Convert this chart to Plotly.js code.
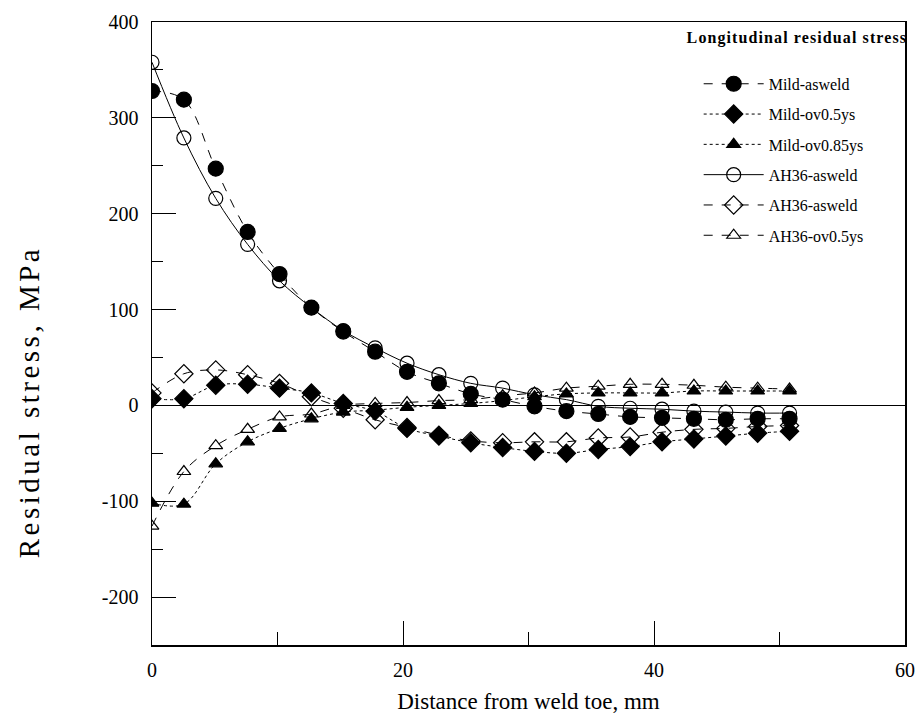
<!DOCTYPE html>
<html>
<head>
<meta charset="utf-8">
<script src="https://cdn.plot.ly/plotly-3.0.1.min.js"></script>
<style>
  html, body { margin: 0; padding: 0; background: #fff; }
  #chart { width: 919px; height: 724px; }
  #chart g.annotation[data-index="0"] text.annotation-text { letter-spacing: 3.5px; }
  #chart g.annotation[data-index="1"] text.annotation-text { letter-spacing: 1.1px; }
</style>
</head>
<body>
<div id="chart"></div>
<script>
// Distance from weld toe (mm)
const distance = [0, 2.54, 5.08, 7.62, 10.16, 12.7, 15.24, 17.78, 20.32, 22.86, 25.4,
                  27.94, 30.48, 33.02, 35.56, 38.1, 40.64, 43.18, 45.72, 48.26, 50.8];

const seriesNames = ["Mild-asweld", "Mild-ov0.5ys", "Mild-ov0.85ys", "AH36-asweld", "AH36-asweld", "AH36-ov0.5ys"];

const mildAsweld   = [328, 319, 247, 181, 137, 102, 77, 56, 35, 23, 12, 6, -1, -6, -9, -12, -13, -14, -15, -14, -14];
const mildOv05     = [7, 7, 21, 22, 18, 13, 2, -6, -24, -32, -39, -44, -48, -50, -46, -43, -38, -35, -32, -29, -27];
const mildOv085    = [-102, -103, -61, -38, -24, -14, -7, -5, -2, 0, 2, 5, 9, 12, 13, 13, 13, 15, 15, 15, 15];
const ah36Asweld   = [358, 279, 216, 168, 130, 102, 78, 60, 44, 32, 23, 18, 11, 6, -1, -3, -4, -6, -7, -8, -8];
const ah36Diamond  = [13, 33, 37, 32, 23, 9, -3, -15, -23, -31, -37, -39, -38, -38, -34, -33, -28, -25, -24, -22, -21];
const ah36Ov05     = [-126, -69, -42, -25, -12, -9, 0, 2, 3, 5, 6, 10, 13, 18, 20, 22, 22, 21, 19, 18, 17];

const yTickVals = [-200, -100, 0, 100, 200, 300, 400];
const xTickVals = [0, 20, 40, 60];

const serif = "Liberation Serif, Times New Roman, serif";

function mk(name, y, symbol, size, dash, shape, group) {
  return {
    x: distance, y: y, name: name, type: "scatter", mode: "lines+markers",
    legendgroup: group,
    line: { color: "#000", width: 1, dash: dash, shape: shape },
    marker: { symbol: symbol, size: size, color: "#000",
              line: { color: "#000", width: 1.2 } }
  };
}

const traces = [
  mk(seriesNames[0], mildAsweld, "circle", 15, "dash", "spline", "g1"),
  mk(seriesNames[1], mildOv05, "diamond", 14, "dot", "spline", "g2"),
  mk(seriesNames[2], mildOv085, "triangle-up", 12, "dot", "spline", "g3"),
  mk(seriesNames[3], ah36Asweld, "circle-open", 14, "solid", "spline", "g4"),
  mk(seriesNames[4], ah36Diamond, "diamond-open", 14, "dash", "spline", "g5"),
  mk(seriesNames[5], ah36Ov05, "triangle-up-open", 12, "dash", "spline", "g6")
];

const layout = {
  width: 919, height: 724,
  margin: { l: 152, r: 14, t: 22, b: 79 },
  paper_bgcolor: "#fff", plot_bgcolor: "#fff",
  font: { family: serif, color: "#000", size: 20 },
  showlegend: true,
  legend: {
    x: 0.726, xanchor: "left", y: 0.928, yanchor: "top",
    bgcolor: "rgba(0,0,0,0)", borderwidth: 0,
    font: { family: serif, size: 16, color: "#000" },
    itemwidth: 60, traceorder: "grouped", tracegroupgap: 6.5
  },
  xaxis: {
    range: [0, 60], tickvals: xTickVals, ticktext: xTickVals.map(String),
    ticks: "inside", ticklen: 24, tickwidth: 1, tickcolor: "#000",
    minor: { tickvals: [10, 30, 50], ticks: "inside", ticklen: 13, tickwidth: 1, tickcolor: "#000" },
    showline: true, mirror: true, linecolor: "#000", linewidth: 1.5,
    showgrid: false, zeroline: false,
    tickfont: { family: serif, size: 20 }, ticklabelstandoff: 6,
    title: { text: "Distance from weld toe, mm", font: { family: serif, size: 23 }, standoff: 13 }
  },
  yaxis: {
    range: [-250, 400], tickvals: yTickVals, ticktext: yTickVals.map(String),
    ticks: "inside", ticklen: 24, tickwidth: 1, tickcolor: "#000",
    minor: { tickvals: [-150, -50, 50, 150, 250, 350], ticks: "inside", ticklen: 11, tickwidth: 1, tickcolor: "#000" },
    showline: true, mirror: true, linecolor: "#000", linewidth: 1.5,
    showgrid: false, zeroline: true, zerolinecolor: "#000", zerolinewidth: 1.2,
    tickfont: { family: serif, size: 20 }, ticklabelstandoff: 8
  },
  annotations: [
    { text: "Residual stress, MPa", xref: "paper", yref: "paper",
      x: -0.163, y: 0.39, xanchor: "center", yanchor: "middle", textangle: -90,
      showarrow: false, font: { family: serif, size: 29, color: "#000" } },
    { text: "<b>Longitudinal residual stress</b>", xref: "paper", yref: "paper",
      x: 0.985, y: 0.975, xanchor: "right", yanchor: "middle",
      showarrow: false, font: { family: serif, size: 16, color: "#000" } }
  ]
};

Plotly.newPlot("chart", traces, layout, { staticPlot: true, displayModeBar: false });
</script>
</body>
</html>
